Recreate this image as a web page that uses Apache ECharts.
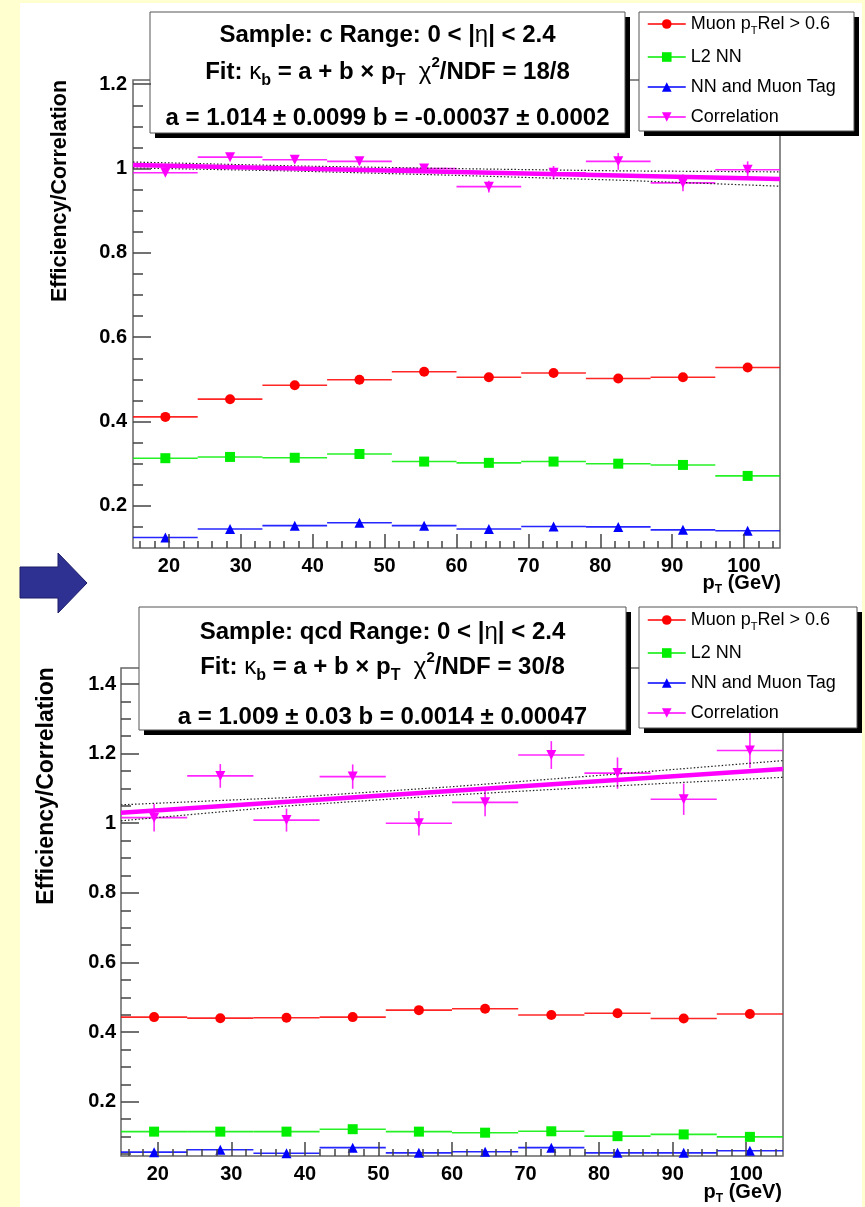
<!DOCTYPE html>
<html>
<head>
<meta charset="utf-8">
<script src="https://cdn.jsdelivr.net/npm/echarts@6/dist/echarts.min.js"></script>
<style>
  html, body { margin: 0; padding: 0; background: #FFFFD0; }
  #chart { width: 865px; height: 1207px; }
</style>
</head>
<body>
<div id="chart"></div>
<script>
// ---- pT binning (GeV) ----
const ptEdges   = [15, 24, 33, 42, 51, 60, 69, 78, 87, 96, 105];
const ptCenters = [19.5, 28.5, 37.5, 46.5, 55.5, 64.5, 73.5, 82.5, 91.5, 100.5];
const xMajorTicks = [20, 30, 40, 50, 60, 70, 80, 90, 100];

// ---- sample: c ----
const cMuonPtRel   = [0.411, 0.453, 0.486, 0.499, 0.518, 0.505, 0.515, 0.502, 0.505, 0.528];
const cL2NN        = [0.313, 0.316, 0.314, 0.323, 0.305, 0.302, 0.305, 0.300, 0.297, 0.271];
const cNNMuonTag   = [0.125, 0.145, 0.153, 0.160, 0.153, 0.145, 0.151, 0.150, 0.143, 0.141];
const cCorrelation = [0.990, 1.027, 1.021, 1.017, 1.000, 0.957, 0.990, 1.017, 0.966, 0.997];
const cCorrErr     = [0.006, 0.007, 0.007, 0.008, 0.010, 0.014, 0.016, 0.020, 0.020, 0.020];
const cFitA = 1.014, cFitB = -0.00037;
const bandPt        = [15, 37.5, 60, 82.5, 105];
const cBandHalf     = [0.007, 0.006, 0.008, 0.011, 0.017];
const cYMajorTicks  = [0.2, 0.4, 0.6, 0.8, 1, 1.2];

// ---- sample: qcd ----
const qcdMuonPtRel   = [0.443, 0.440, 0.441, 0.443, 0.463, 0.467, 0.449, 0.454, 0.439, 0.452];
const qcdL2NN        = [0.114, 0.114, 0.114, 0.121, 0.114, 0.111, 0.115, 0.101, 0.106, 0.099];
const qcdNNMuonTag   = [0.055, 0.062, 0.052, 0.068, 0.053, 0.056, 0.068, 0.053, 0.053, 0.059];
const qcdCorrelation = [1.016, 1.136, 1.009, 1.134, 1.000, 1.060, 1.196, 1.144, 1.069, 1.209];
const qcdCorrErr     = [0.040, 0.034, 0.033, 0.035, 0.035, 0.040, 0.040, 0.045, 0.045, 0.050];
const qcdFitA = 1.009, qcdFitB = 0.0014;
const qcdBandHalf    = [0.023, 0.012, 0.012, 0.017, 0.024];
const qcdYMajorTicks = [0.2, 0.4, 0.6, 0.8, 1, 1.2, 1.4];

const legendNames = ['Muon pTRel > 0.6', 'L2 NN', 'NN and Muon Tag', 'Correlation'];

const COLORS = { red: '#FF0000', green: '#00EE00', blue: '#0000FF', magenta: '#FF00FF' };
const FONT = 'Liberation Sans, Arial, Helvetica, sans-serif';

// minor ticks: subdivide the major step
function minorTicks(lo, hi, step, majorStep) {
  const out = [];
  const n0 = Math.ceil(lo / step - 1e-9), n1 = Math.floor(hi / step + 1e-9);
  for (let n = n0; n <= n1; n++) {
    const v = +(n * step).toFixed(6);
    const r = v / majorStep;
    if (Math.abs(r - Math.round(r)) < 1e-6) continue;
    if (Math.abs(v - lo) < 1e-6) continue;
    out.push(v);
  }
  return out;
}

const axisLabelStyle = { fontFamily: FONT, fontWeight: 'bold', fontSize: 20, color: '#000' };
const tickLine = { color: '#444', width: 1.5 };

function mainX(gridIndex) {
  return {
    type: 'value', gridIndex, position: 'bottom', min: 15, max: 105, z: 8,
    axisLine: { show: false },
    splitLine: { show: false },
    axisTick: { inside: true, length: 14, customValues: xMajorTicks, lineStyle: tickLine },
    axisLabel: Object.assign({ customValues: xMajorTicks, margin: 8 }, axisLabelStyle)
  };
}
function minorX(gridIndex) {
  return {
    type: 'value', gridIndex, position: 'bottom', offset: 0, min: 15, max: 105, z: 8,
    axisLine: { show: false }, splitLine: { show: false }, axisLabel: { show: false },
    axisTick: { inside: true, length: 7, customValues: minorTicks(15, 105, 2, 10), lineStyle: tickLine }
  };
}
function mainY(gridIndex, min, max, ticks, margin) {
  return {
    type: 'value', gridIndex, position: 'left', min, max, z: 8,
    axisLine: { show: false }, splitLine: { show: false },
    axisTick: { inside: true, length: 18, customValues: ticks, lineStyle: tickLine },
    axisLabel: Object.assign({ customValues: ticks, margin }, axisLabelStyle)
  };
}
function minorY(gridIndex, min, max) {
  return {
    type: 'value', gridIndex, position: 'left', offset: 0, min, max, z: 8,
    axisLine: { show: false }, splitLine: { show: false }, axisLabel: { show: false },
    axisTick: { inside: true, length: 10, customValues: minorTicks(min, max, 0.05, 0.2), lineStyle: tickLine }
  };
}

// bin-width (horizontal) and statistical (vertical) error bars
function errorBars(xi, yi, color, values, errs) {
  return {
    type: 'custom', xAxisIndex: xi, yAxisIndex: yi, z: 4, silent: true,
    encode: { x: 0, y: 1 },
    data: ptCenters.map((x, i) => [x, values[i], errs ? errs[i] : 0, ptEdges[i], ptEdges[i + 1]]),
    renderItem: function (params, api) {
      const x = api.value(0), y = api.value(1), e = api.value(2);
      const pL = api.coord([api.value(3), y]);
      const pR = api.coord([api.value(4), y]);
      const kids = [{ type: 'line', shape: { x1: pL[0], y1: pL[1], x2: pR[0], y2: pR[1] },
                      style: { stroke: color, lineWidth: 1.6, opacity: 0.85 } }];
      if (e > 0) {
        const pT = api.coord([x, y + e]), pB = api.coord([x, y - e]);
        kids.push({ type: 'line', shape: { x1: pT[0], y1: pT[1], x2: pB[0], y2: pB[1] },
                    style: { stroke: color, lineWidth: 1.6, opacity: 0.85 } });
      }
      return { type: 'group', children: kids };
    }
  };
}

function markers(name, xi, yi, color, symbol, rotate, values) {
  return {
    name, type: 'line', xAxisIndex: xi, yAxisIndex: yi, z: 6, silent: true,
    data: ptCenters.map((x, i) => [x, values[i]]),
    symbol, symbolSize: 10, symbolRotate: rotate, showSymbol: true,
    lineStyle: { width: 0 }, itemStyle: { color }
  };
}

function fitLine(xi, yi, a, b) {
  return {
    type: 'line', xAxisIndex: xi, yAxisIndex: yi, z: 5, silent: true, symbol: 'none',
    data: [[15, a + b * 15], [105, a + b * 105]],
    lineStyle: { color: COLORS.magenta, width: 4.5 }
  };
}
function bandLine(xi, yi, a, b, half, sign) {
  return {
    type: 'line', xAxisIndex: xi, yAxisIndex: yi, z: 5, silent: true, symbol: 'none',
    data: bandPt.map((x, i) => [x, a + b * x + sign * half[i]]),
    lineStyle: { color: '#222', width: 1.2, type: [1.5, 2] }
  };
}

function panelSeries(xi, yi, red, green, blue, corr, corrErr, a, b, half) {
  return [
    errorBars(xi, yi, COLORS.red, red, null),
    errorBars(xi, yi, COLORS.green, green, null),
    errorBars(xi, yi, COLORS.blue, blue, null),
    errorBars(xi, yi, COLORS.magenta, corr, corrErr),
    bandLine(xi, yi, a, b, half, 1),
    bandLine(xi, yi, a, b, half, -1),
    fitLine(xi, yi, a, b),
    markers(legendNames[0], xi, yi, COLORS.red, 'circle', 0, red),
    markers(legendNames[1], xi, yi, COLORS.green, 'rect', 0, green),
    markers(legendNames[2], xi, yi, COLORS.blue, 'triangle', 0, blue),
    markers(legendNames[3], xi, yi, COLORS.magenta, 'triangle', 180, corr)
  ];
}

const legendCommon = {
  orient: 'vertical', selectedMode: false, data: legendNames, z: 22,
  backgroundColor: 'transparent', borderWidth: 0,
  padding: 0, itemGap: 12, itemWidth: 38, itemHeight: 12,
  lineStyle: { width: 1.5 },
  textStyle: {
    fontFamily: FONT, fontSize: 18, color: '#000',
    rich: {
      t: { fontFamily: FONT, fontSize: 18, color: '#000', lineHeight: 24 },
      s: { fontFamily: FONT, fontSize: 11, color: '#000', lineHeight: 10, verticalAlign: 'bottom' }
    }
  },
  formatter: function (name) {
    if (name === 'Muon pTRel > 0.6') return '{t|Muon p}{s|T}{t|Rel > 0.6}';
    return '{t|' + name + '}';
  }
};

const boxRich = {
  m:  { fontFamily: FONT, fontWeight: 'bold', fontSize: 24, color: '#000', lineHeight: 34 },
  g:  { fontFamily: FONT, fontSize: 24, color: '#000', lineHeight: 34 },
  sb: { fontFamily: FONT, fontWeight: 'bold', fontSize: 16, color: '#000', lineHeight: 14, verticalAlign: 'bottom' },
  sp: { fontFamily: FONT, fontWeight: 'bold', fontSize: 15, color: '#000', lineHeight: 14, verticalAlign: 'top' }
};

// white box with a hard black drop shadow
function shadowBox(x, y, w, h) {
  return [
    { type: 'rect', shape: { x: x + 5, y: y + 5, width: w, height: h }, style: { fill: '#000' } },
    { type: 'rect', shape: { x, y, width: w, height: h }, style: { fill: '#fff', stroke: '#555', lineWidth: 1 } }
  ];
}

function statBox(x, y, w, h, lines, lineYs) {
  const kids = shadowBox(x, y, w, h);
  lines.forEach((txt, i) => {
    kids.push({
      type: 'text', x: x + w / 2, y: lineYs[i],
      style: { text: txt, rich: boxRich, align: 'center', verticalAlign: 'middle', font: 'bold 24px ' + FONT }
    });
  });
  return { type: 'group', z: 20, children: kids };
}

function legendFrame(x, y, w, h) {
  return { type: 'group', z: 20, children: shadowBox(x, y, w, h) };
}

function yTitle(x, y, size) {
  return {
    type: 'text', x, y, rotation: Math.PI / 2, z: 20,
    style: { text: 'Efficiency/Correlation', align: 'center', verticalAlign: 'middle',
             font: 'bold ' + size + 'px ' + FONT, fill: '#000' }
  };
}
function xTitle(x, y) {
  return {
    type: 'text', x, y, z: 20,
    style: {
      text: '{m|p}{s|T}{m| (GeV)}', align: 'right', verticalAlign: 'middle',
      rich: {
        m: { fontFamily: FONT, fontWeight: 'bold', fontSize: 20, color: '#000', lineHeight: 26 },
        s: { fontFamily: FONT, fontWeight: 'bold', fontSize: 12, color: '#000', lineHeight: 8, verticalAlign: 'bottom' }
      }
    }
  };
}

const chart = echarts.init(document.getElementById('chart'), null, { renderer: 'canvas' });
chart.setOption({
  backgroundColor: '#FFFFD0',
  animation: false,
  grid: [
    { left: 133, top: 80, width: 647, height: 468, show: true, borderColor: '#666', borderWidth: 1.5, backgroundColor: 'transparent' },
    { left: 121, top: 668, width: 662, height: 488, show: true, borderColor: '#666', borderWidth: 1.5, backgroundColor: 'transparent' }
  ],
  xAxis: [mainX(0), minorX(0), mainX(1), minorX(1)],
  yAxis: [
    mainY(0, 0.1, 1.21, cYMajorTicks, 6), minorY(0, 0.1, 1.21),
    mainY(1, 0.044, 1.446, qcdYMajorTicks, 5), minorY(1, 0.044, 1.446)
  ],
  legend: [
    Object.assign({ left: 647, top: 15 }, legendCommon),
    Object.assign({ left: 647, top: 611 }, legendCommon)
  ],
  graphic: [
    { type: 'rect', z: -10, shape: { x: 20, y: 3, width: 842, height: 1204 }, style: { fill: '#fff' } },
    { type: 'polygon', z: 1,
      shape: { points: [[20, 567], [58, 567], [58, 553], [87, 583], [58, 613], [58, 598], [20, 598]] },
      style: { fill: '#2E3192', stroke: '#1C1D6A', lineWidth: 1 } },
    statBox(150, 12, 475, 121, [
      '{m|Sample: c Range: 0 < |}{g|η}{m|| < 2.4}',
      '{m|Fit: }{g|κ}{sb|b}{m| = a + b × p}{sb|T}{m|  }{g|χ}{sp|2}{m|/NDF = 18/8}',
      '{m|a = 1.014 ± 0.0099 b = -0.00037 ± 0.0002}'
    ], [35, 72, 118]),
    statBox(139, 607, 487, 123, [
      '{m|Sample: qcd Range: 0 < |}{g|η}{m|| < 2.4}',
      '{m|Fit: }{g|κ}{sb|b}{m| = a + b × p}{sb|T}{m|  }{g|χ}{sp|2}{m|/NDF = 30/8}',
      '{m|a = 1.009 ± 0.03 b = 0.0014 ± 0.00047}'
    ], [632, 667, 717]),
    legendFrame(639, 12, 215, 119),
    legendFrame(639, 607, 218, 121),
    yTitle(60, 191, 21.5),
    yTitle(47, 786, 23),
    xTitle(781, 583),
    xTitle(782, 1192)
  ],
  series: [].concat(
    panelSeries(0, 0, cMuonPtRel, cL2NN, cNNMuonTag, cCorrelation, cCorrErr, cFitA, cFitB, cBandHalf),
    panelSeries(2, 2, qcdMuonPtRel, qcdL2NN, qcdNNMuonTag, qcdCorrelation, qcdCorrErr, qcdFitA, qcdFitB, qcdBandHalf)
  )
});
</script>
</body>
</html>
